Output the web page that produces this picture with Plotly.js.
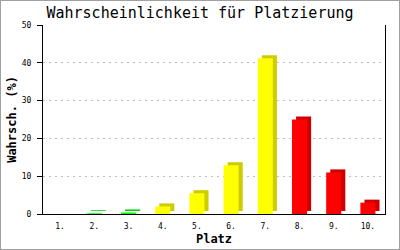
<!DOCTYPE html>
<html>
<head>
<meta charset="utf-8">
<script src="https://cdn.plot.ly/plotly-3.0.1.min.js"></script>
<style>
html,body{margin:0;padding:0;background:#fff;}
#chart{width:398px;height:248px;border:1px solid #a0a0a0;}
</style>
</head>
<body>
<div id="chart"></div>
<script>
const categories = ["1.", "2.", "3.", "4.", "5.", "6.", "7.", "8.", "9.", "10."];
const values = [0, 0.2, 0.4, 2.0, 5.5, 12.9, 41.2, 25.0, 11.0, 3.0];
const frontColors = ["#00ff00", "#00ff00", "#00ff00", "#ffff00", "#ffff00", "#ffff00", "#ffff00", "#ff0000", "#ff0000", "#ff0000"];
const sideColors = ["#00cc00", "#00cc00", "#00cc00", "#cccc00", "#cccc00", "#cccc00", "#cccc00", "#cc0000", "#cc0000", "#cc0000"];

const barWidth = 0.44;
const depthX = 0.12;   // category units
const depthY = 0.8;    // value units

const back = {
  type: "bar",
  x: categories,
  y: values,
  base: values.map(() => depthY),
  width: barWidth,
  offset: -barWidth / 2 + depthX,
  marker: {color: sideColors, line: {width: 0}},
  hoverinfo: "skip",
  showlegend: false
};
const front = {
  type: "bar",
  x: categories,
  y: values,
  width: barWidth,
  offset: -barWidth / 2,
  marker: {color: frontColors, line: {width: 0}},
  showlegend: false
};

const layout = {
  width: 398,
  height: 248,
  margin: {l: 42, r: 14, t: 24, b: 35},
  paper_bgcolor: "#ffffff",
  plot_bgcolor: "#ffffff",
  barmode: "overlay",
  font: {family: "DejaVu Sans Mono, monospace", color: "#000"},
  title: {
    text: "Wahrscheinlichkeit für Platzierung",
    font: {family: "DejaVu Sans Mono, monospace", size: 15, color: "#000"},
    x: 0.5, xanchor: "center",
    yref: "container", y: 1 - 12/248, yanchor: "middle"
  },
  xaxis: {
    type: "category",
    showline: true, linecolor: "#000", linewidth: 1,
    ticks: "", showgrid: false, zeroline: false,
    tickfont: {size: 8, family: "DejaVu Sans Mono, monospace"},
    ticklabelstandoff: 4,
    title: {text: "Platz", font: {size: 12, family: "DejaVu Sans Mono, monospace", weight: "bold"}, standoff: 5},
    range: [-0.5, 9.5]
  },
  yaxis: {
    range: [0, 50],
    tickvals: [0, 10, 20, 30, 40, 50],
    showline: true, mirror: true, linecolor: "#000", linewidth: 1,
    ticks: "outside", ticklen: 5, tickcolor: "#000",
    showgrid: true, gridcolor: "#c0c0c0", griddash: "2px,4px", gridwidth: 1,
    zeroline: false,
    tickfont: {size: 8, family: "DejaVu Sans Mono, monospace"},
    ticklabelstandoff: 4,
    title: {text: "Wahrsch. (%)", font: {size: 12, family: "DejaVu Sans Mono, monospace", weight: "bold"}, standoff: 2}
  }
};

Plotly.newPlot("chart", [back, front], layout, {displayModeBar: false, staticPlot: true});
</script>
</body>
</html>
